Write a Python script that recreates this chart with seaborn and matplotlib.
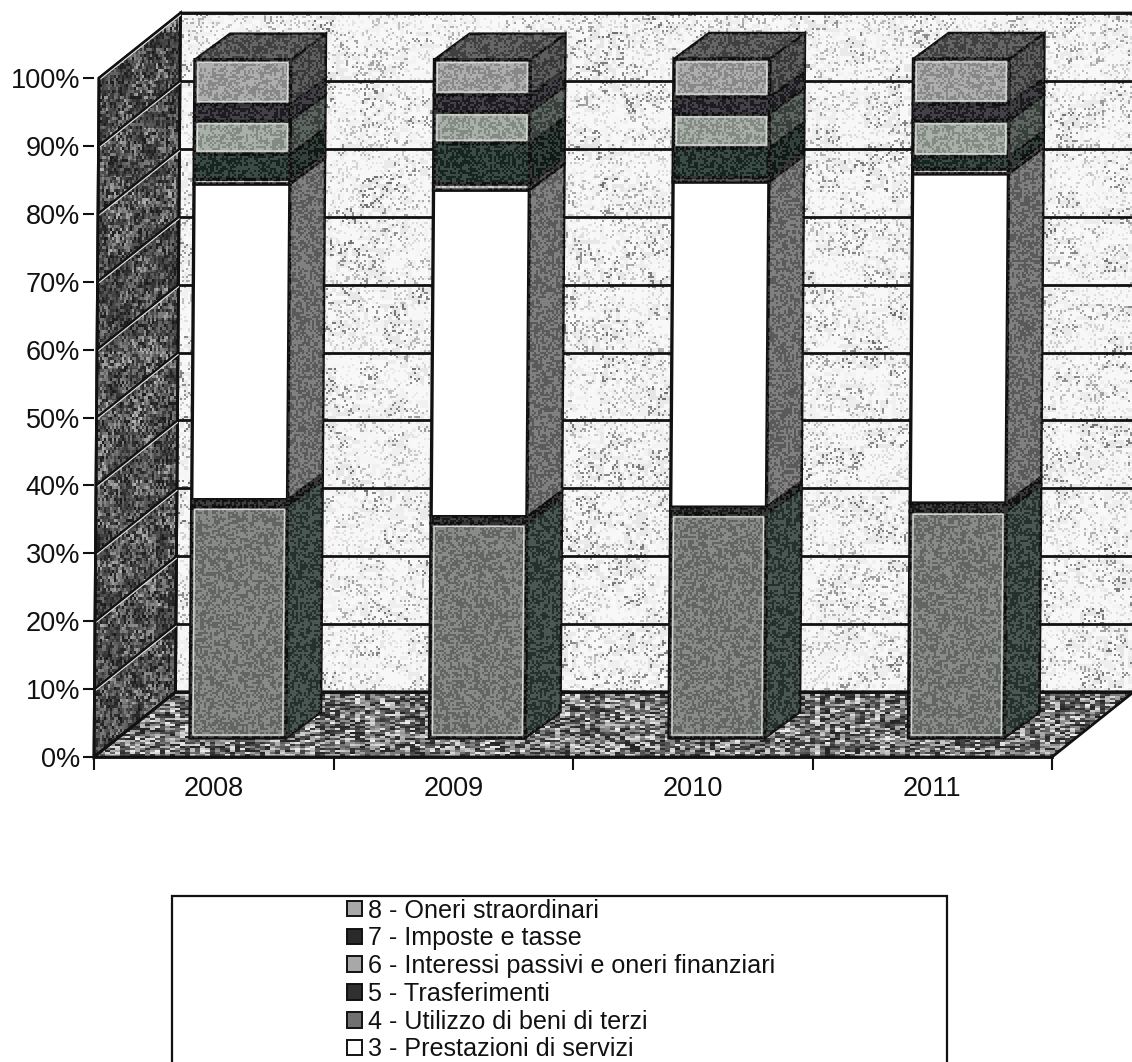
import numpy as np
import pandas as pd
import matplotlib
matplotlib.use("Agg")
import matplotlib.pyplot as plt
import seaborn as sns
from matplotlib.patches import Polygon, Patch, PathPatch
from matplotlib.path import Path
from matplotlib.transforms import Affine2D, IdentityTransform

years = ["2008", "2009", "2010", "2011"]

# share of each item per year (bottom of the stack first)
item1 = [34.1, 31.6, 33.0, 33.4]
item2 = [1.0, 1.0, 1.0, 1.2]
item3 = [46.5, 48.1, 47.9, 48.5]
item4 = [0.7, 0.9, 0.6, 0.7]
item5 = [3.7, 6.0, 4.4, 1.8]
item6 = [4.9, 4.6, 5.0, 5.3]
item7 = [2.4, 2.5, 2.5, 2.5]
item8 = [6.6, 5.2, 5.6, 6.6]

# legend is cut by the page in the scan, only these six can be read
legend_labels = ["8 - Oneri straordinari", "7 - Imposte e tasse",
                 "6 - Interessi passivi e oneri finanziari", "5 - Trasferimenti",
                 "4 - Utilizzo di beni di terzi", "3 - Prestazioni di servizi"]
legend_colors = ["#a8a8a8", "#2a2a2a", "#a8a8a8", "#303030", "#707070", "#ffffff"]

stack = [item1, item2, item3, item4, item5, item6, item7, item8]
front_colors = ["#747774", "#222222", "#ffffff", "#c8c8c8", "#1a2c25", "#9aa39c", "#24202a", "#a0a0a0"]
side_colors = ["#2b3a35", "#161616", "#6a6a6a", "#3a3a3a", "#121f1a", "#434c47", "#202026", "#424242"]
top_color = "#4c4c4c"

W, H = 1132, 1062
sns.set_style("white")
plt.rcParams["font.family"] = ["Liberation Sans", "DejaVu Sans"]
plt.rcParams["text.color"] = "#111111"

fig = plt.figure(figsize=(W / 100, H / 100), dpi=100)
ax = fig.add_axes([94 / W, 1 - 757 / H, (1052 - 94) / W, (757 - 78) / H])

rows = []
for i, vals in enumerate(stack):
    rows.append(pd.DataFrame({"year": years, "share": vals, "item": i + 1}))
df = pd.concat(rows)

bottom = np.zeros(len(years))
for i, vals in enumerate(stack):
    sub = df[df["item"] == i + 1]
    sns.barplot(data=sub, x="year", y="share", bottom=bottom, color=front_colors[i], saturation=1,
                width=0.4, errorbar=None, edgecolor="#111111", linewidth=2.4, zorder=5, ax=ax)
    bottom = bottom + np.array(vals)

ax.set_xlim(-0.5, 3.5)
ax.set_ylim(0, 100)
ax.set_xlabel("")
ax.set_ylabel("")
ax.set_yticks(range(0, 101, 10))
ax.set_yticklabels(["{}%".format(t) for t in range(0, 101, 10)])
ax.set_xticks([-0.5, 0.5, 1.5, 2.5, 3.5], minor=True)
ax.tick_params(axis="x", which="major", length=0, labelsize=19.5, pad=14, labelcolor="#111111")
ax.tick_params(axis="x", which="minor", length=9, width=1.5, color="#111111", bottom=True)
ax.tick_params(axis="y", length=8, width=1.5, color="#111111", labelsize=19.5, pad=2, left=True, labelcolor="#111111")
for s in ["top", "right", "left"]:
    ax.spines[s].set_visible(False)
ax.spines["bottom"].set_linewidth(2)
ax.spines["bottom"].set_color("#111111")
ax.patch.set_alpha(0)

# the scan leans a little, so everything drawn in depth gets the same shear
y0 = H - 757
lean = 5 / 679
shear = Affine2D(matrix=np.array([[1, lean, -lean * y0], [0, 1, 0], [0, 0, 1]]))
wall_dx, wall_dy = 81, 65
bar_dx, bar_dy = 24, 19
box_dx, box_dy = 35, 26


def plane(dx, dy):
    return ax.transData + Affine2D().translate(dx, dy) + shear


def to_px(x, y, dx=0, dy=0):
    return plane(dx, dy).transform((x, y))


def add_poly(pts, **kws):
    kws.setdefault("clip_on", False)
    p = Polygon(np.array(pts), closed=True, transform=IdentityTransform(), **kws)
    ax.add_patch(p)
    return p


# textures for the walls and the floor
yy, xx = np.mgrid[0:H, 0:W]


def grain(sx, sy, k):
    a = np.floor(xx / sx)
    b = np.floor(yy / sy)
    v = np.sin(a * 12.9898 + b * 78.233 + k * 37.719) * 43758.5453
    return v - np.floor(v)


def put_texture(img, clip, zorder):
    im = ax.imshow(img, extent=(0, 1, 0, 1), transform=fig.transFigure, cmap="gray", vmin=0, vmax=1,
                   aspect="auto", zorder=zorder, interpolation="bilinear")
    im.set_clip_box(fig.bbox)
    im.set_clip_path(clip)
    return im


fine = grain(2, 2, 1)
blotch = grain(24, 16, 2)
back_tex = 0.97 - 0.4 * (fine > 0.84) * (0.15 + blotch) - 0.07 * blotch * (grain(4, 4, 7) > 0.5)
left_tex = 0.1 + 0.55 * grain(2, 3, 3) * (0.45 + 0.7 * grain(12, 16, 4))
floor_tex = 0.14 + 0.8 * grain(5, 2, 5) ** 1.4

corner = [(-0.5, 0), (3.5, 0), (3.5, 100), (-0.5, 100)]
back_pts = [to_px(x, y, wall_dx, wall_dy) for x, y in corner]
left_pts = [to_px(-0.5, 0), to_px(-0.5, 0, wall_dx, wall_dy), to_px(-0.5, 100, wall_dx, wall_dy), to_px(-0.5, 100)]
floor_pts = [to_px(-0.5, 0), to_px(3.5, 0), to_px(3.5, 0, wall_dx, wall_dy), to_px(-0.5, 0, wall_dx, wall_dy)]

edge = dict(edgecolor="#111111", linewidth=2)
back_poly = add_poly(back_pts, facecolor="none", zorder=1.5, **edge)
left_poly = add_poly(left_pts, facecolor="none", zorder=1.5, **edge)
floor_poly = add_poly(floor_pts, facecolor="none", zorder=1.5, **edge)
put_texture(back_tex, back_poly, 1)
put_texture(left_tex, left_poly, 1)
put_texture(floor_tex, floor_poly, 1)
ax.set_xlim(-0.5, 3.5)
ax.set_ylim(0, 100)

# gridlines run along the back wall and down the left wall
for t in range(0, 101, 10):
    a = to_px(-0.5, t)
    b = to_px(-0.5, t, wall_dx, wall_dy)
    c = to_px(3.5, t, wall_dx, wall_dy)
    ax.plot([b[0], c[0]], [b[1], c[1]], color="#111111", lw=2, transform=IdentityTransform(), clip_on=False, zorder=2)
    if t > 0:
        ax.plot([a[0], b[0]], [a[1] - 2, b[1] - 2], color="#dddddd", lw=1.1, transform=IdentityTransform(), clip_on=False, zorder=2)
        ax.plot([a[0], b[0]], [a[1], b[1]], color="#111111", lw=1.6, transform=IdentityTransform(), clip_on=False, zorder=2)
a = to_px(-0.5, 0)
b = to_px(-0.5, 100)
ax.plot([a[0], b[0]], [a[1], b[1]], color="#111111", lw=2, transform=IdentityTransform(), clip_on=False, zorder=3)

# front faces come from seaborn, the depth is added from each bar's own geometry
front = plane(bar_dx, bar_dy)
grey_faces = []
n_years = len(years)
for k, bar in enumerate(ax.patches[:len(stack) * n_years]):
    item = k // n_years
    x0, x1 = bar.get_x(), bar.get_x() + bar.get_width()
    b0, b1 = bar.get_y(), bar.get_y() + bar.get_height()
    bar.set_transform(front)
    bar.set_clip_on(False)
    side = [to_px(x1, b0, bar_dx, bar_dy), to_px(x1, b0, bar_dx + box_dx, bar_dy + box_dy),
            to_px(x1, b1, bar_dx + box_dx, bar_dy + box_dy), to_px(x1, b1, bar_dx, bar_dy)]
    add_poly(side, facecolor=side_colors[item], edgecolor="#111111", linewidth=1.8, zorder=4)
    grey_faces.append(Path(np.array(side + [side[0]]), closed=True))
    f = [to_px(x0, b0, bar_dx, bar_dy), to_px(x1, b0, bar_dx, bar_dy), to_px(x1, b1, bar_dx, bar_dy), to_px(x0, b1, bar_dx, bar_dy)]
    if item != 2:
        grey_faces.append(Path(np.array(f + [f[0]]), closed=True))
    # the lighter faces have a pale inner border in the scan
    if item in (0, 5, 7):
        inner = [f[0] + (3, 3), f[1] + (-3, 3), f[2] + (-3, -3), f[3] + (3, -3)]
        add_poly(inner, facecolor="none", edgecolor="#d4d8d4", linewidth=1.0, zorder=7)
    if item == len(stack) - 1:
        top = [to_px(x0, b1, bar_dx, bar_dy), to_px(x1, b1, bar_dx, bar_dy),
               to_px(x1, b1, bar_dx + box_dx, bar_dy + box_dy), to_px(x0, b1, bar_dx + box_dx, bar_dy + box_dy)]
        add_poly(top, facecolor=top_color, edgecolor="#111111", linewidth=1.8, zorder=4)
        grey_faces.append(Path(np.array(top + [top[0]]), closed=True))

# speckle on the coloured faces, same single image clipped to all of them
speck = np.zeros((H, W, 4))
speck[..., :3] = (grain(2, 2, 6) > 0.5)[..., None]
speck[..., 3] = 0.15
clip_patch = PathPatch(Path.make_compound_path(*grey_faces), transform=IdentityTransform(), facecolor="none", edgecolor="none")
ax.add_patch(clip_patch)
over = ax.imshow(speck, extent=(0, 1, 0, 1), transform=fig.transFigure, aspect="auto", zorder=6)
over.set_clip_box(fig.bbox)
over.set_clip_path(clip_patch)
ax.set_xlim(-0.5, 3.5)
ax.set_ylim(0, 100)

# legend frame runs off the bottom of the page
add_poly([(172, H - 896), (947, H - 896), (947, -20), (172, -20)], facecolor="white", edgecolor="#111111", linewidth=1.6, zorder=7)
handles = [Patch(facecolor=c, edgecolor="#111111", linewidth=1.4, label=l) for c, l in zip(legend_colors, legend_labels)]
leg = ax.legend(handles=handles, loc="upper left", bbox_to_anchor=(347 / W, 1 - 898.5 / H), bbox_transform=fig.transFigure,
                frameon=False, borderpad=0, borderaxespad=0, fontsize=18.1, labelspacing=0.15,
                handlelength=0.58, handleheight=0.58, handletextpad=0.25)
leg.set_zorder(8)

plt.savefig("out.png", dpi=100)
